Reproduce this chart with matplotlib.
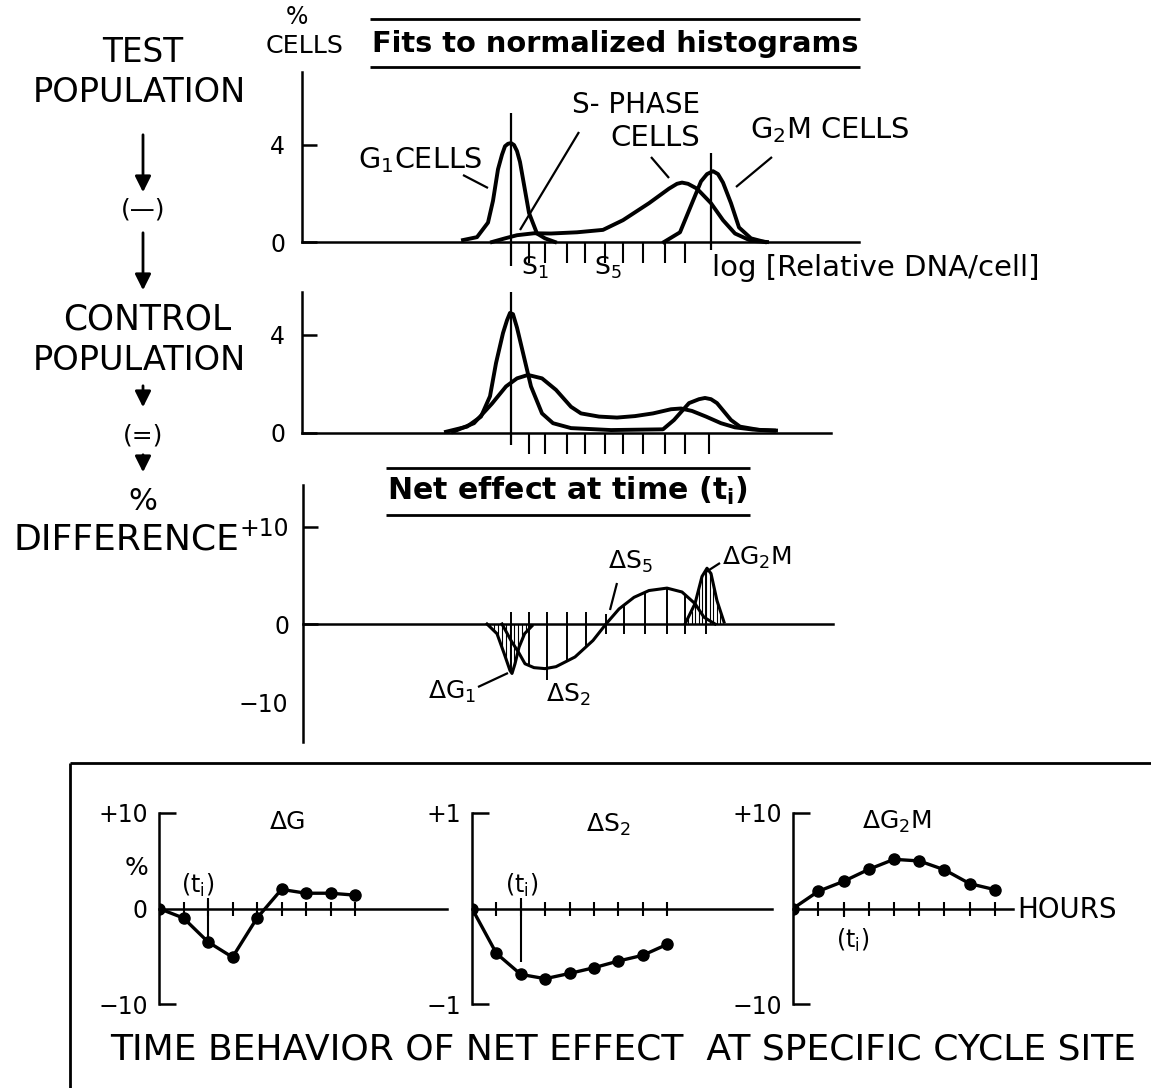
import numpy as np
import matplotlib
matplotlib.use("Agg")
import matplotlib.pyplot as plt

# ---------------- data ----------------
# DNA axis in channel units: G1 mode at 0, G2M mode at 10
dna_ticks = [0.9, 1.7, 2.8, 3.7, 4.7, 5.6, 6.6, 7.7, 8.7]

# Test population fits (% cells)
test_g1_x = [-2.4, -1.7, -1.15, -0.9, -0.65, -0.45, -0.3, -0.15, 0.0, 0.15, 0.3, 0.45, 0.6, 0.9, 1.3, 1.7, 2.2]
test_g1_y = [0.08, 0.2, 0.8, 1.7, 3.0, 3.6, 3.95, 4.05, 4.08, 4.0, 3.75, 3.3, 2.6, 1.2, 0.35, 0.15, 0.0]
test_s_x = [-0.95, -0.3, 0.3, 1.15, 2.0, 3.3, 4.6, 5.6, 6.9, 7.9, 8.3, 8.55, 8.85, 9.3, 10.0, 10.6, 11.2, 12.0, 12.8]
test_s_y = [0.0, 0.15, 0.28, 0.36, 0.35, 0.4, 0.5, 0.9, 1.6, 2.2, 2.4, 2.45, 2.4, 2.2, 1.6, 0.9, 0.35, 0.05, 0.0]
test_g2m_x = [7.65, 8.45, 9.05, 9.5, 9.8, 10.1, 10.35, 10.6, 11.0, 11.4, 12.0, 12.7]
test_g2m_y = [0.0, 0.4, 1.6, 2.5, 2.8, 2.92, 2.8, 2.45, 1.6, 0.6, 0.15, 0.0]

# Control population fits (% cells)
ctrl_g_x = [-3.25, -2.2, -1.5, -1.05, -0.75, -0.4, -0.2, -0.05, 0.1, 0.3, 0.65, 1.0, 1.55, 2.1, 3.0, 5.0,
            7.6, 8.15, 8.9, 9.4, 9.7, 10.0, 10.3, 11.0, 11.45, 12.45, 13.25]
ctrl_g_y = [0.05, 0.26, 0.67, 1.5, 2.85, 4.08, 4.6, 4.9, 4.85, 4.3, 3.1, 1.9, 0.8, 0.4, 0.2, 0.12,
            0.15, 0.53, 1.22, 1.38, 1.43, 1.38, 1.22, 0.53, 0.26, 0.12, 0.1]
ctrl_s_x = [-2.9, -1.85, -0.95, -0.25, 0.3, 0.85, 1.55, 2.25, 3.0, 3.5, 4.4, 5.3, 6.2, 7.1,
            8.0, 8.5, 9.05, 9.75, 10.5, 11.2, 12.1, 13.15]
ctrl_s_y = [0.05, 0.4, 1.2, 1.9, 2.23, 2.37, 2.23, 1.76, 1.07, 0.8, 0.67, 0.63, 0.69, 0.8,
            0.97, 1.0, 0.9, 0.67, 0.4, 0.23, 0.14, 0.1]

# Net effect (% difference)
net_g1_x = [-1.2, -0.7, -0.35, -0.05, 0.05, 0.2, 0.4, 0.68, 1.05]
net_g1_y = [0.0, -1.0, -3.0, -4.8, -5.1, -4.1, -2.4, -1.0, -0.2]
net_s_x = [-0.45, 0.0, 0.4, 0.7, 1.15, 1.7, 2.25, 3.2, 4.1, 4.75, 5.4, 6.15, 6.9, 7.8, 8.55, 9.2, 9.65, 10.2]
net_s_y = [0.0, -1.7, -3.0, -4.1, -4.5, -4.6, -4.4, -3.4, -1.7, 0.0, 1.55, 2.75, 3.45, 3.7, 3.3, 2.1, 0.7, 0.0]
net_g2m_x = [8.7, 9.2, 9.55, 9.8, 10.0, 10.3, 10.65]
net_g2m_y = [0.0, 2.1, 4.9, 5.75, 5.2, 2.4, 0.2]
net_tick_x = [0.0, 0.9, 1.8, 2.8, 3.75, 4.75, 5.65, 6.7, 7.8, 8.7, 9.75]

# Time behaviour of net effect
hours = [0, 1, 2, 3, 4, 5, 6, 7, 8]
dG_vals = [0.0, -1.0, -3.5, -5.1, -1.0, 2.0, 1.6, 1.6, 1.4]
dS2_vals = [0.0, -0.47, -0.69, -0.735, -0.68, -0.62, -0.55, -0.49, -0.375]
dG2M_vals = [0.0, 1.8, 2.84, 4.1, 5.15, 4.98, 4.05, 2.6, 1.97]

# ---------------- figure ----------------
W, H, DPI = 1151, 1088, 100
plt.rcParams['font.family'] = ['DejaVu Sans']
fig = plt.figure(figsize=(W / DPI, H / DPI), dpi=DPI)
fig.patch.set_facecolor('white')

cv = fig.add_axes([0, 0, 1, 1])
cv.set_xlim(0, W)
cv.set_ylim(H, 0)
cv.axis('off')
R = fig.canvas.get_renderer()

K = 'black'
LW_CURVE = 2.8
LW_AX = 1.8


def T(x, y, s, size=17, ha='center', va='center', weight='normal', width=None, ax=None):
    a = ax if ax is not None else cv
    t = a.text(x, y, s, fontsize=size, ha=ha, va=va, fontweight=weight, color=K)
    if width is not None:
        bb = t.get_window_extent(renderer=R)
        t.set_fontsize(size * width / bb.width)
    return t


def L(xs, ys, lw=1.6):
    cv.plot(xs, ys, color=K, lw=lw, solid_capstyle='butt')


def px_axes(left, right, top, bottom):
    ax = fig.add_axes([left / W, 1 - bottom / H, (right - left) / W, (bottom - top) / H])
    ax.patch.set_visible(False)
    return ax


def dna_axes(top, bottom, y0, unit, base_end, ytop):
    left, right = 302, 902
    ax = px_axes(left, right, top, bottom)
    xl = ((left - 511) / 20.0, (right - 511) / 20.0)
    ax.set_xlim(*xl)
    ax.set_ylim((y0 - bottom) / unit, (y0 - top) / unit)
    for s in ('top', 'right'):
        ax.spines[s].set_visible(False)
    ax.spines['left'].set_bounds(0, ytop)
    ax.spines['left'].set_linewidth(LW_AX)
    ax.spines['bottom'].set_position(('data', 0))
    ax.spines['bottom'].set_bounds(xl[0], base_end)
    ax.spines['bottom'].set_linewidth(LW_AX)
    return ax


# ---------- Panel A: test population ----------
axA = dna_axes(72, 300, 242, 24.25, 17.4, 7.0)
axA.plot(test_g1_x, test_g1_y, color=K, lw=LW_CURVE)
axA.plot(test_s_x, test_s_y, color=K, lw=LW_CURVE)
axA.plot(test_g2m_x, test_g2m_y, color=K, lw=LW_CURVE)
axA.vlines([0], -1.0, 5.3, color=K, lw=1.6)
axA.vlines([10], -0.35, 3.65, color=K, lw=1.6)
axA.set_yticks([0, 4])
axA.set_yticklabels(['0', '4'])
axA.set_xticks(dna_ticks)
axA.set_xticklabels([])
axA.tick_params(axis='y', direction='in', length=11, width=LW_AX, labelsize=17, pad=12)
axA.tick_params(axis='x', direction='out', length=15, width=1.5)

# ---------- Panel B: control population ----------
axB = dna_axes(292, 470, 433, 24.5, 16.0, 5.76)
axB.plot(ctrl_g_x, ctrl_g_y, color=K, lw=LW_CURVE)
axB.plot(ctrl_s_x, ctrl_s_y, color=K, lw=LW_CURVE)
axB.vlines([0], -0.5, 5.76, color=K, lw=1.6)
axB.set_yticks([0, 4])
axB.set_yticklabels(['0', '4'])
axB.set_xticks(dna_ticks + [9.9])
axB.set_xticklabels([])
axB.tick_params(axis='y', direction='in', length=11, width=LW_AX, labelsize=17, pad=12)
axB.tick_params(axis='x', direction='out', length=15, width=1.5)

# ---------- Panel C: net effect ----------
axC = px_axes(303, 904, 485, 742)
axC.set_xlim((303 - 511) / 20.0, (904 - 511) / 20.0)
axC.set_ylim((624 - 742) / 9.7, (624 - 485) / 9.7)
for s in ('top', 'right'):
    axC.spines[s].set_visible(False)
axC.spines['left'].set_linewidth(LW_AX)
axC.spines['bottom'].set_position(('data', 0))
axC.spines['bottom'].set_bounds((303 - 511) / 20.0, 16.1)
axC.spines['bottom'].set_linewidth(LW_AX)
axC.set_xticks([])
axC.set_yticks([10, 0])
axC.set_yticklabels(['+10', '0'])
axC.tick_params(axis='y', direction='in', length=11, width=LW_AX, labelsize=17, pad=10)
axC.text(-0.025, (624 - 705) / 9.7, '\u221210', transform=axC.get_yaxis_transform(),
         ha='right', va='center', fontsize=17)

axC.plot(net_g1_x, net_g1_y, color=K, lw=2.2)
axC.plot(net_s_x, net_s_y, color=K, lw=2.2)
axC.plot(net_g2m_x, net_g2m_y, color=K, lw=2.2)
# dense hatching of G1 and G2M differences
hx = np.arange(-1.05, 1.0, 0.2)
axC.vlines(hx, np.interp(hx, net_g1_x, net_g1_y), 0, color=K, lw=0.8)
hx2 = np.arange(8.85, 10.6, 0.18)
axC.vlines(hx2, 0, np.interp(hx2, net_g2m_x, net_g2m_y), color=K, lw=0.8)
# tick/hatch lines at the DNA channels
for x in net_tick_x:
    vs = np.interp(x, net_s_x, net_s_y, left=0, right=0)
    vg = np.interp(x, net_g1_x, net_g1_y, left=0, right=0)
    vm = np.interp(x, net_g2m_x, net_g2m_y, left=0, right=0)
    v = min(vs, vg) if min(vs, vg) < 0 else max(vs, vm)
    if v < 0:
        lo = -5.8 if abs(x - 1.8) < 0.01 else v
        axC.vlines([x], lo, 1.2, color=K, lw=1.4)
    else:
        axC.vlines([x], -1.0, max(v, 1.0), color=K, lw=1.4)

# ---------- bottom panels: time behaviour ----------
def time_axes(left, unit, tmax, ylim, labels):
    right = left + unit * tmax
    ax = px_axes(left, right, 813, 1004)
    ax.set_xlim(0, tmax)
    ax.set_ylim(*ylim)
    for s in ('top', 'right'):
        ax.spines[s].set_visible(False)
    ax.spines['left'].set_linewidth(LW_AX)
    ax.spines['bottom'].set_position(('data', 0))
    ax.spines['bottom'].set_linewidth(LW_AX)
    ax.set_xticks(hours[1:])
    ax.set_xticklabels([])
    ax.tick_params(axis='x', direction='inout', length=10, width=1.5)
    ax.set_yticks([ylim[0], 0, ylim[1]])
    ax.set_yticklabels(labels)
    ax.tick_params(axis='y', direction='in', length=12, width=LW_AX, labelsize=17, pad=8)
    ax.yaxis.get_major_ticks()[1].tick1line.set_visible(False)
    return ax


axD = time_axes(159, 24.5, 11.76, (-10, 10), ['\u221210', '0', '+10'])
axD.plot(hours, dG_vals, color=K, lw=2.4, marker='o', ms=8)
axD.vlines([2], -3.5, 1.15, color=K, lw=1.5)

axE = time_axes(472, 24.4, 12.3, (-1, 1), ['\u22121', '', '+1'])
axE.plot(hours, dS2_vals, color=K, lw=2.4, marker='o', ms=8)
axE.vlines([2], -0.56, 0.115, color=K, lw=1.5)

axF = time_axes(793, 25.25, 8.7, (-10, 10), ['\u221210', '', '+10'])
axF.plot(hours, dG2M_vals, color=K, lw=2.4, marker='o', ms=8)
axF.vlines([2], -0.85, 0.5, color=K, lw=1.5)

# ---------------- text & decorations ----------------
# left column flow
T(143, 52, 'TEST', width=82)
T(139, 93, 'POPULATION', width=215)
cv.annotate('', xy=(143, 195), xytext=(143, 132),
            arrowprops=dict(arrowstyle='-|>', lw=2, color=K, mutation_scale=24))
T(143, 210, '(\u2014)', size=18)
cv.annotate('', xy=(143, 293), xytext=(143, 230),
            arrowprops=dict(arrowstyle='-|>', lw=2, color=K, mutation_scale=24))
T(147, 320, 'CONTROL', width=170)
T(139, 360, 'POPULATION', width=215)
cv.annotate('', xy=(143, 410), xytext=(143, 383),
            arrowprops=dict(arrowstyle='-|>', lw=2, color=K, mutation_scale=24))
T(143, 435, '(=)', size=18)
cv.annotate('', xy=(143, 475), xytext=(143, 452),
            arrowprops=dict(arrowstyle='-|>', lw=2, color=K, mutation_scale=24))
T(143, 502, '%', size=22)
T(127, 540, 'DIFFERENCE', width=228)

# panel A labels
T(297, 17, '%', size=17)
T(305, 46, 'CELLS', width=78)
T(615, 44, 'Fits to normalized histograms', weight='bold', width=490)
L([370, 860], [19, 19], lw=2)
L([370, 860], [67, 67], lw=2)
T(420, 160, 'G$_\\mathregular{1}$CELLS', width=125)
L([463, 488], [175, 188])
T(700, 105, 'S- PHASE', ha='right', width=128)
T(700, 138, 'CELLS', ha='right', width=90)
L([579, 520], [132, 230])
L([651, 669], [157, 178])
T(750, 130, 'G$_\\mathregular{2}$M CELLS', ha='left', width=160)
L([772, 736], [157, 187])
T(535, 268, 'S$_\\mathregular{1}$', size=18)
T(608, 268, 'S$_\\mathregular{5}$', size=18)
T(712, 268, 'log [Relative DNA/cell]', ha='left', width=328)

# panel C labels
T(567, 491, 'Net effect at time (t$_\\mathregular{i}$)', weight='bold', width=362)
L([386, 750], [468, 468], lw=2)
L([386, 750], [515, 515], lw=2)
T(452, 692, '\u0394G$_\\mathregular{1}$', size=18)
L([478, 508], [687, 673])
T(568, 695, '\u0394S$_\\mathregular{2}$', size=18)
T(630, 562, '\u0394S$_\\mathregular{5}$', size=18)
L([617, 610], [583, 610])
T(722, 558, '\u0394G$_\\mathregular{2}$M', size=18, ha='left')
L([720, 706], [563, 572])

# bottom box and labels
L([70, 1151], [763, 763], lw=2)
L([70, 70], [763, 1088], lw=2)
T(137, 868, '%', size=18)
T(198, 885, '(t$_\\mathregular{i}$)', size=17)
T(288, 822, '\u0394G', size=18)
T(522, 885, '(t$_\\mathregular{i}$)', size=17)
T(608, 825, '\u0394S$_\\mathregular{2}$', size=18)
T(853, 940, '(t$_\\mathregular{i}$)', size=17)
T(897, 822, '\u0394G$_\\mathregular{2}$M', size=18)
T(1017, 910, 'HOURS', ha='left', width=100)
T(623, 1050, 'TIME BEHAVIOR OF NET EFFECT  AT SPECIFIC CYCLE SITE', width=1034)

fig.savefig('out.png', dpi=DPI, facecolor='white')
